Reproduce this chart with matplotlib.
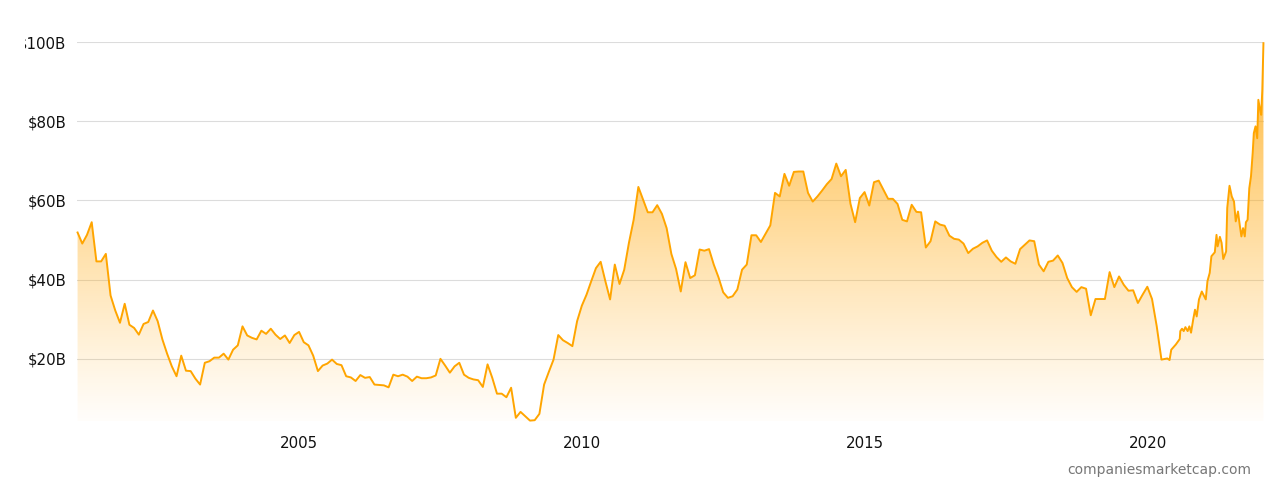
import numpy as np
import matplotlib
matplotlib.use("Agg")
import matplotlib.pyplot as plt
from matplotlib.transforms import Bbox, TransformedBbox

# market cap in $B, one reading per month from Jan 2001 to Mar 2020
monthly_start = 2001.08
monthly_values = [
    51.9, 49.1, 51.3, 54.5, 44.6, 44.6, 46.5, 36.0, 32.2, 29.1,
    33.9, 28.6, 27.8, 26.1, 28.8, 29.3, 32.2, 29.5, 24.9, 21.3,
    18.1, 15.6, 20.8, 17.0, 16.9, 15.0, 13.5, 19.0, 19.4, 20.3,
    20.3, 21.3, 19.8, 22.3, 23.4, 28.2, 25.9, 25.3, 24.9, 27.1,
    26.3, 27.6, 26.1, 25.0, 25.9, 24.0, 26.0, 26.8, 24.2, 23.4,
    20.8, 16.9, 18.3, 18.8, 19.8,
    18.7, 18.4, 15.6, 15.3, 14.4, 15.9, 15.2, 15.4, 13.5, 13.4,
    13.3, 12.8, 16.0, 15.6, 16.0, 15.5, 14.4, 15.5, 15.1, 15.1,
    15.3, 15.8, 20.0, 18.3, 16.5, 18.1, 19.0, 16.0, 15.2, 14.8,
    14.6, 12.9, 18.6, 15.2, 11.2, 11.2, 10.3, 12.7, 5.1, 6.6,
    5.5, 4.4, 4.5, 6.1, 13.5, 16.7, 19.8, 26.0, 24.7, 24.0,
    23.2, 29.5, 33.4, 36.2, 39.6, 42.9, 44.5, 39.6, 35.0, 43.8,
    38.9, 42.5,
    49.3, 55.1, 63.4, 60.2, 57.0, 57.0, 58.8, 56.6, 53.0, 46.5,
    42.7, 37.0, 44.4, 40.4, 41.1, 47.6, 47.3, 47.7, 43.8, 40.6,
    36.8, 35.4, 35.8, 37.5, 42.5, 43.8, 51.2, 51.2, 49.5, 51.6,
    53.7, 61.9, 61.0, 66.7, 63.7, 67.2, 67.3, 67.3, 61.9, 59.7,
    61.0, 62.5, 64.1, 65.4, 69.3, 66.1, 67.7, 59.2, 54.5, 60.6,
    62.1, 58.7, 64.6, 65.0,
    62.7, 60.4, 60.4, 59.1, 55.1, 54.7, 58.9, 57.1, 57.0, 48.1,
    49.7, 54.7, 53.9, 53.6, 51.1, 50.3, 50.1, 49.1, 46.7, 47.8,
    48.4, 49.3, 49.9, 47.3, 45.7, 44.5, 45.6, 44.6, 44.0, 47.7,
    48.8, 49.9, 49.7, 43.8, 42.1, 44.5, 44.8, 46.1, 44.2, 40.4,
    38.1, 36.9, 38.1, 37.7, 31.0, 35.1, 35.1, 35.1, 41.9, 38.1,
    40.8, 38.7, 37.2, 37.3, 34.1, 36.2, 38.2, 35.1, 28.2, 19.8,
]

# denser readings from spring 2020 on (decimal years)
tail_years = [
    2020.35, 2020.39, 2020.42, 2020.50, 2020.57, 2020.58, 2020.61, 2020.64,
    2020.67, 2020.71, 2020.74, 2020.77, 2020.81, 2020.84, 2020.87, 2020.91,
    2020.96, 2021.03, 2021.06, 2021.10, 2021.13, 2021.19, 2021.22, 2021.24,
    2021.28, 2021.31, 2021.34, 2021.39, 2021.41, 2021.45, 2021.49, 2021.53,
    2021.56, 2021.60, 2021.63, 2021.66, 2021.69, 2021.72, 2021.74, 2021.77,
    2021.80, 2021.83, 2021.86, 2021.88, 2021.91, 2021.94, 2021.96, 2021.99,
    2022.01, 2022.03, 2022.05,
]
tail_values = [
    20.1, 19.7, 22.3, 23.6, 25.0, 27.0, 27.6, 27.0,
    28.0, 27.0, 28.2, 26.6, 30.1, 32.4, 30.7, 35.0,
    37.0, 35.0, 39.6, 41.7, 45.9, 46.9, 51.3, 48.4,
    50.8, 49.3, 45.2, 47.1, 58.1, 63.7, 61.0, 59.7,
    54.7, 57.2, 53.9, 50.9, 53.0, 50.9, 54.5, 55.1,
    63.1, 66.1, 72.0, 77.0, 78.7, 75.7, 85.4, 82.9,
    81.6, 87.9, 99.7,
]

y_ticks = [20, 40, 60, 80, 100]
x_ticks = [2005, 2010, 2015, 2020]

x = np.concatenate([monthly_start + np.arange(len(monthly_values)) / 12.0, tail_years])
y = np.concatenate([monthly_values, tail_values])

plt.rcParams['font.family'] = ['DejaVu Sans']

fig = plt.figure(figsize=(12.8, 4.92), dpi=100)
ax = fig.add_axes([77 / 1280, 1 - 421 / 492, 1187 / 1280, 379 / 492])

xmin, xmax = 2001.07, 2022.06
ymin, ymax = 4.3, 100.0
ax.set_xlim(xmin, xmax)
ax.set_ylim(ymin, ymax)

# gradient fill under the line
grad = np.linspace(0, 1, 256)[:, None]
rgba = np.zeros((256, 1, 4))
rgba[..., 0] = 1.0
rgba[..., 1] = 0.66
rgba[..., 2] = 0.05
rgba[..., 3] = 0.02 + 0.8 * grad ** 1.1
img = ax.imshow(rgba, extent=[xmin, xmax, ymin, ymax], origin='lower',
                aspect='auto', zorder=1, interpolation='bilinear')
poly = ax.fill_between(x, y, ymin, color='none', lw=0)
clip = poly.get_paths()[0]
img.set_clip_path(clip, transform=ax.transData)

ax.plot(x, y, color='#FFA500', lw=1.4, zorder=3, clip_on=False)

ax.set_yticks(y_ticks)
ax.set_yticklabels(['$%dB' % v for v in y_ticks])
ax.set_xticks(x_ticks)
ax.set_xticklabels([str(v) for v in x_ticks])
ax.grid(axis='y', color='#DCDCDC', lw=0.8, zorder=0)
ax.set_axisbelow(True)
for s in ax.spines.values():
    s.set_visible(False)
ax.tick_params(axis='both', length=0, labelsize=10.8, colors='#111111')
ax.tick_params(axis='y', pad=7.5)
ax.tick_params(axis='x', pad=11)

# the widest label gets cut at the left edge like in the original
cut = TransformedBbox(Bbox([[24.5 / 1280, 0], [1, 1]]), fig.transFigure)
for lab in ax.get_yticklabels():
    lab.set_clip_box(cut)
    lab.set_clip_on(True)

fig.text(1251 / 1280, 1 - 470 / 492, 'companiesmarketcap.com', ha='right', va='center',
         fontsize=10, color='#777777')

fig.savefig('out.png', dpi=100)
